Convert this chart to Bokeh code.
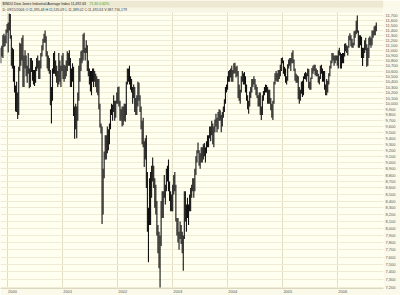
import pandas as pd
from bokeh.plotting import figure
from bokeh.models import (Range1d, FixedTicker, NumeralTickFormatter, DatetimeTickFormatter,
                          BoxAnnotation, Label, ColumnDataSource)
from bokeh.embed import file_html
from bokeh.resources import INLINE

# ---------------- data: weekly high / low of the Dow Jones Industrial Average ----------------
first_fridays = ["1999-11-19", "2000-01-07", "2001-01-05", "2002-01-04",
                 "2003-01-03", "2004-01-02", "2005-01-07", "2006-01-06"]

highs_1999 = [11050, 11090, 11300, 11330, 11290, 11420, 11530]
lows_1999 = [10750, 10880, 10850, 11070, 11080, 11140, 11350]

highs_2000 = [11560, 11750, 11740, 11300, 11050, 11020, 10700, 10330, 10400, 10200, 10680, 11150, 11130,
              11250, 11300, 10900, 11000, 10900, 10700, 10950, 10650, 10850, 10850, 10800, 10620, 10620,
              10680, 10850, 10900, 10800, 10800, 10950, 11100, 11230, 11330, 11400, 11280, 10980, 10900,
              10850, 10620, 10300, 10650, 10950, 10980, 10800, 10700, 10600, 10950, 10800, 10700, 10900]
lows_2000 = [10960, 11400, 11230, 10700, 10650, 10400, 10200, 9860, 9850, 9730, 9800, 10600, 10700,
             10800, 10300, 10300, 10650, 10500, 10380, 10550, 10280, 10300, 10580, 10420, 10350, 10320,
             10380, 10600, 10650, 10450, 10450, 10650, 10880, 11000, 11150, 11150, 10880, 10650, 10600,
             10550, 9970, 9650, 10050, 10550, 10550, 10500, 10380, 10300, 10350, 10400, 10300, 10600]

highs_2001 = [10950, 10720, 10700, 10800, 10980, 10950, 11000, 10850, 10650, 10750, 10680, 9950, 10000,
              9950, 10200, 10700, 10850, 10980, 11000, 11320, 11350, 11050, 11200, 11100, 10800, 10650,
              10600, 10600, 10650, 10650, 10600, 10550, 10500, 10450, 10450, 10000, 9650, 9600, 8900,
              9180, 9450, 9450, 9600, 9550, 9650, 9900, 10000, 9980, 10150, 10050, 10050, 10200]
lows_2001 = [10450, 10400, 10450, 10500, 10600, 10700, 10700, 10300, 10300, 10400, 9780, 9390, 9550,
             9400, 9700, 10050, 10400, 10600, 10750, 10800, 10950, 10800, 10950, 10600, 10500, 10350,
             10220, 10150, 10400, 10300, 10400, 10300, 10200, 10150, 9900, 9580, 9480, 8062, 8200,
             8750, 9050, 9050, 9150, 9200, 9300, 9550, 9800, 9700, 9850, 9700, 9750, 10000]

highs_2002 = [10300, 10310, 10050, 9900, 9950, 9950, 10000, 10000, 10400, 10650, 10650, 10700, 10500,
              10450, 10300, 10350, 10300, 10100, 10150, 10400, 10380, 10150, 9950, 9700, 9750, 9350,
              9400, 9450, 8850, 8300, 8750, 8850, 8950, 9080, 8950, 8750, 8650, 8400, 8050,
              7950, 7900, 8400, 8550, 8550, 8800, 8650, 8900, 8950, 9050, 8700, 8550, 8500]
lows_2002 = [10000, 9950, 9700, 9700, 9600, 9620, 9700, 9680, 9800, 10350, 10400, 10350, 10250,
             10200, 10000, 10100, 9850, 9800, 9800, 9950, 10050, 9850, 9550, 9300, 9250, 8930,
             9050, 8600, 7950, 7530, 8050, 8050, 8450, 8700, 8600, 8300, 8200, 7900, 7650,
             7450, 7197, 7750, 8150, 8150, 8450, 8350, 8550, 8700, 8550, 8400, 8250, 8250]

highs_2003 = [8650, 8800, 8850, 8650, 8150, 8150, 7950, 8100, 8050, 7950, 7900, 8550, 8550,
              8350, 8450, 8350, 8500, 8600, 8650, 8750, 8750, 8900, 9100, 9200, 9330, 9200,
              9150, 9250, 9250, 9300, 9320, 9250, 9350, 9450, 9450, 9600, 9600, 9700, 9650,
              9600, 9720, 9820, 9750, 9850, 9900, 9880, 9800, 9850, 9950, 10080, 10300, 10350]
lows_2003 = [8250, 8500, 8550, 8100, 7900, 7800, 7700, 7850, 7780, 7650, 7416, 7850, 8100,
             7950, 8150, 8050, 8250, 8250, 8450, 8550, 8450, 8550, 8800, 9000, 9150, 8950,
             8900, 9000, 9000, 9050, 9100, 9000, 9150, 9250, 9250, 9400, 9350, 9450, 9300,
             9250, 9500, 9600, 9500, 9550, 9700, 9700, 9500, 9600, 9750, 9850, 10000, 10200]

highs_2004 = [10500, 10600, 10620, 10650, 10700, 10620, 10750, 10760, 10680, 10700, 10600, 10350, 10250,
              10500, 10600, 10560, 10580, 10500, 10350, 10150, 10050, 10220, 10300, 10450, 10450, 10500,
              10450, 10350, 10300, 10150, 10200, 10200, 9950, 10150, 10230, 10300, 10350, 10340, 10300,
              10250, 10250, 10100, 10000, 10050, 10400, 10560, 10600, 10560, 10620, 10620, 10720, 10850, 10860]
lows_2004 = [10250, 10400, 10400, 10480, 10400, 10400, 10550, 10560, 10480, 10500, 10100, 10050, 10000,
             10200, 10400, 10350, 10350, 10200, 10050, 9900, 9820, 9950, 10100, 10200, 10300, 10350,
             10250, 10150, 10100, 9950, 9950, 9800, 9710, 9800, 10050, 10150, 10200, 10200, 10000,
             10000, 10000, 9880, 9750, 9710, 10000, 10350, 10420, 10400, 10400, 10450, 10500, 10600, 10750]

highs_2005 = [10800, 10680, 10650, 10500, 10730, 10820, 10850, 10850, 10960, 11000, 10820, 10650, 10550,
              10520, 10500, 10300, 10250, 10400, 10420, 10500, 10560, 10580, 10560, 10650, 10640, 10400,
              10480, 10660, 10700, 10720, 10720, 10650, 10620, 10550, 10500, 10700, 10720, 10650, 10600,
              10600, 10350, 10450, 10420, 10560, 10700, 10800, 10950, 10950, 10900, 10900, 10900, 10900]
lows_2005 = [10550, 10500, 10380, 10350, 10420, 10650, 10700, 10600, 10750, 10750, 10600, 10420, 10380,
             10380, 10080, 10000, 10050, 10180, 10120, 10150, 10450, 10440, 10400, 10500, 10280, 10250,
             10250, 10450, 10550, 10600, 10520, 10500, 10500, 10380, 10350, 10450, 10550, 10400, 10400,
             10250, 10150, 10150, 10200, 10350, 10500, 10650, 10750, 10800, 10700, 10750, 10800, 10700]

highs_2006 = [11000, 11050, 10960, 10930, 10950, 10950, 11130, 11140, 11100, 11080, 11290, 11340, 11300,
              11230, 11150, 11380, 11400, 11600, 11709, 11400, 11300, 11300, 11270, 11050, 11050, 11200,
              11250, 11120, 11050, 11250, 11280, 11250, 11400, 11400, 11480, 11500, 11560]
lows_2006 = [10650, 10900, 10650, 10650, 10750, 10750, 10880, 10980, 10950, 10900, 11050, 11200, 11080,
             11050, 11050, 11100, 11250, 11320, 11350, 11050, 11050, 11100, 10850, 10698, 10850, 10950,
             11000, 10683, 10700, 10850, 11100, 11050, 11100, 11250, 11300, 11300, 11380]

year_labels = ["2000", "2001", "2002", "2003", "2004", "2005", "2006"]
y_ticks = list(range(7200, 11701, 100))

header_line1 = "$INDU Dow Jones Industrial Average Index  11,492.63"
header_change = "71.30  0.62%"
header_line2 = "D: 09/15/2006  O:11,395.48  H:11,535.09  L:11,389.02  C:11,492.63  V:387,716,179"

# ---------------- assemble ----------------
all_highs = [highs_1999, highs_2000, highs_2001, highs_2002, highs_2003, highs_2004, highs_2005, highs_2006]
all_lows = [lows_1999, lows_2000, lows_2001, lows_2002, lows_2003, lows_2004, lows_2005, lows_2006]
dates, hi, lo = [], [], []
for start, h, l in zip(first_fridays, all_highs, all_lows):
    n = min(len(h), len(l))
    dates.extend(pd.date_range(start, periods=n, freq="W-FRI") - pd.Timedelta(days=2))
    hi.extend(h[:n])
    lo.extend(l[:n])
src = ColumnDataSource(dict(date=dates, high=hi, low=lo))

y_bottom, y_plot_top, y_band, y_top = 7184, 11771, 11877, 12026

p = figure(width=400, height=295, x_axis_type="datetime", y_axis_type="log",
           x_range=Range1d(pd.Timestamp("1999-11-15"), pd.Timestamp("2006-10-31")),
           y_range=Range1d(y_bottom, y_top), y_axis_location="right",
           output_backend="svg", toolbar_location=None, title=None,
           min_border_left=0, min_border_right=15, min_border_top=0, min_border_bottom=7)
p.background_fill_color = "#FFFFF0"
p.border_fill_color = "#FBF9EA"
p.outline_line_color = None

# header band
p.add_layout(BoxAnnotation(bottom=y_plot_top, top=y_top, fill_color="#F7F5E4", fill_alpha=1,
                           line_color=None))
p.add_layout(BoxAnnotation(bottom=y_band, top=y_top, fill_color="#ECE8D2", fill_alpha=1,
                           line_color=None))

# y axis (right)
p.yaxis.ticker = FixedTicker(ticks=y_ticks, minor_ticks=[])
p.yaxis.formatter = NumeralTickFormatter(format="0,0")
p.yaxis.major_label_text_font_size = "4px"
p.yaxis.major_label_text_color = "#555555"
p.yaxis.major_label_text_font = "Liberation Sans"
p.yaxis.major_label_standoff = 2
p.yaxis.major_tick_out = 0
p.yaxis.major_tick_in = 0
p.yaxis.minor_tick_out = 0
p.yaxis.minor_tick_in = 0
p.yaxis.axis_line_color = None
p.ygrid.grid_line_color = "#EFEBD4"
p.ygrid.grid_line_width = 1

# x axis (years)
year_grid = [pd.Timestamp(f"{y}-01-01").value // 10**6 for y in year_labels]
year_lab = [pd.Timestamp(f"{y}-02-03").value // 10**6 for y in year_labels]
p.xaxis.ticker = FixedTicker(ticks=year_lab, minor_ticks=[])
p.xaxis.formatter = DatetimeTickFormatter(years="%Y", months="%Y", days="%Y", hours="%Y")
p.xaxis.major_label_text_font_size = "4px"
p.xaxis.major_label_text_color = "#555555"
p.xaxis.major_label_text_font = "Liberation Sans"
p.xaxis.major_label_standoff = 1
p.xaxis.major_tick_out = 0
p.xaxis.major_tick_in = 0
p.xaxis.minor_tick_out = 0
p.xaxis.minor_tick_in = 0
p.xaxis.axis_line_color = "#DCD8C0"
p.xgrid.ticker = FixedTicker(ticks=year_grid, minor_ticks=[])
p.xgrid.grid_line_color = "#E2DEC4"
p.xgrid.bounds = (y_bottom, y_plot_top)

# price bars
p.segment(x0="date", y0="low", x1="date", y1="high", source=src,
          line_color="#111111", line_width=1.1)

# header texts
p.add_layout(Label(x=2, y=284.5, x_units="screen", y_units="screen", text=header_line1,
                   text_font="Liberation Sans", text_font_size="3.5px",
                   text_color="#222222", text_baseline="middle"))
p.add_layout(Label(x=89, y=284.5, x_units="screen", y_units="screen", text=header_change,
                   text_font="Liberation Sans", text_font_size="3.5px",
                   text_color="#2E9E2E", text_baseline="middle"))
p.add_layout(Label(x=2, y=278.5, x_units="screen", y_units="screen", text=header_line2,
                   text_font="Liberation Sans", text_font_size="3.5px",
                   text_color="#333333", text_baseline="middle"))

open("out.html", "w").write(file_html(p, INLINE))
